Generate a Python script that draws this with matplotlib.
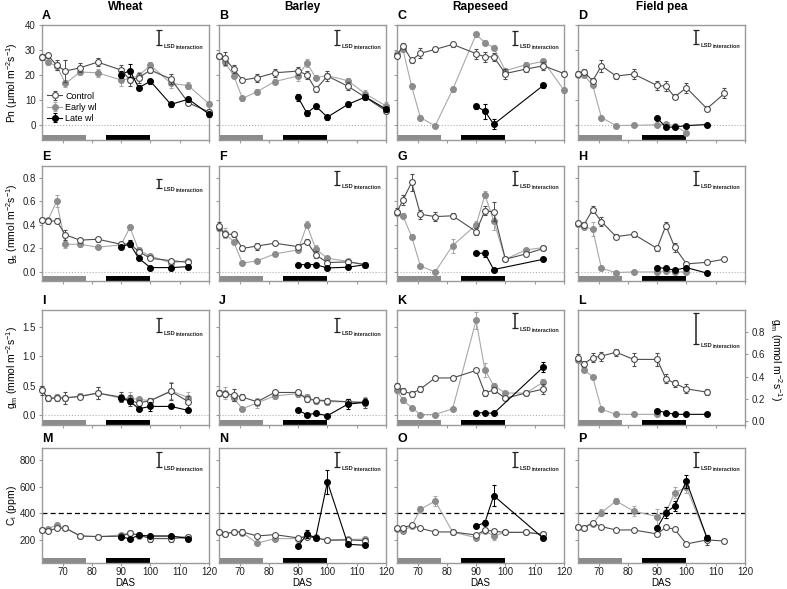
import matplotlib
matplotlib.use("Agg")
import matplotlib.pyplot as plt
import numpy as np

plt.rcParams['font.family'] = ['Liberation Sans', 'DejaVu Sans']
plt.rcParams['mathtext.fontset'] = 'custom'
plt.rcParams['mathtext.rm'] = 'Liberation Sans'
plt.rcParams['mathtext.it'] = 'Liberation Sans:italic'
plt.rcParams['mathtext.bf'] = 'Liberation Sans:bold'

# sampling days (days after sowing)
das_all = [63, 65, 68, 71, 76, 82, 90, 93, 96, 100, 107, 113, 120]
das_main = [63, 65, 68, 71, 76, 82, 90, 93, 96, 100, 107, 113]
das_late_all = [90, 93, 96, 100, 107, 113, 120]
das_late_main = [90, 93, 96, 100, 107, 113]
das_late_rape = [90, 93, 96, 113]
das_late_pea = [90, 93, 96, 100, 107]
das_early_pea = [63, 65, 68, 71, 76, 82, 90, 93, 96, 100]
das_pea_gm_ctrl = [63, 65, 68, 71, 76, 82, 90, 93, 96, 100, 107]
das_pea_gm_early = [63, 65, 68, 71, 76, 82, 90]
das_pea_ci_early = [63, 65, 68, 71, 76, 82, 90, 93, 96, 100, 107]

crops = ['Wheat', 'Barley', 'Rapeseed', 'Field pea']
letters = ['A', 'B', 'C', 'D', 'E', 'F', 'G', 'H', 'I', 'J', 'K', 'L', 'M', 'N', 'O', 'P']

# ---- Pn (umol m-2 s-1)
pn_wheat_ctrl = [27.0, 27.9, 23.8, 21.5, 22.8, 25.1, 21.9, 18.0, 18.8, 21.9, 18.3, 8.7, 5.1]
pn_wheat_ctrl_se = [1.2, 1.0, 2.0, 4.5, 1.8, 1.5, 2.0, 2.5, 2.0, 1.0, 2.0, 1.0, 1.0]
pn_wheat_early = [27.0, 25.0, 23.6, 16.5, 21.1, 20.8, 17.9, 18.5, 19.6, 23.8, 16.6, 15.6, 8.3]
pn_wheat_early_se = [1.0, 1.0, 1.5, 1.5, 1.0, 1.5, 2.5, 2.0, 1.5, 1.5, 2.0, 1.5, 1.0]
pn_wheat_late = [20.1, 21.7, 14.8, 17.4, 8.1, 10.2, 4.2]
pn_wheat_late_se = [1.5, 2.5, 1.0, 1.0, 1.0, 1.0, 1.0]

pn_barley_ctrl = [27.7, 26.6, 22.3, 17.9, 18.8, 20.8, 21.5, 20.0, 14.1, 19.5, 15.4, 10.9, 5.5]
pn_barley_ctrl_se = [1.0, 2.5, 1.5, 1.0, 1.5, 1.5, 1.5, 1.5, 1.0, 2.0, 1.5, 1.0, 1.0]
pn_barley_early = [27.5, 25.0, 19.7, 10.5, 13.2, 17.3, 19.5, 24.8, 18.8, 19.7, 17.6, 12.3, 7.5]
pn_barley_early_se = [1.0, 1.5, 1.0, 1.0, 1.0, 1.0, 2.0, 1.5, 1.0, 1.0, 1.0, 1.5, 1.5]
pn_barley_late = [10.9, 4.6, 7.4, 3.0, 8.1, 11.1, 6.2]
pn_barley_late_se = [1.5, 1.0, 1.0, 1.0, 1.0, 1.0, 1.0]

pn_rape_ctrl = [27.7, 31.7, 25.9, 28.6, 30.2, 32.2, 28.5, 27.2, 27.2, 20.5, 22.3, 23.6, 20.5]
pn_rape_ctrl_se = [1.0, 1.0, 1.0, 2.0, 1.0, 1.0, 2.0, 2.0, 1.5, 2.0, 1.0, 1.5, 1.0]
pn_rape_early = [28.5, 30.3, 15.3, 2.8, -0.5, 14.1, 36.2, 32.9, 30.9, 21.7, 24.0, 25.4, 13.8]
pn_rape_early_se = [1.0, 1.0, 1.0, 1.0, 0.5, 1.0, 1.0, 1.0, 1.0, 1.0, 1.0, 1.0, 1.0]
pn_rape_late = [7.4, 5.4, 0.1, 15.8]
pn_rape_late_se = [1.0, 3.0, 2.0, 1.0]

pn_pea_ctrl = [20.4, 21.2, 17.6, 23.6, 19.5, 20.3, 15.7, 15.4, 11.1, 14.8, 6.4, 12.5]
pn_pea_ctrl_se = [1.0, 1.0, 1.0, 2.5, 1.0, 2.0, 2.0, 2.0, 1.0, 2.0, 1.0, 2.0]
pn_pea_early = [20.0, 19.9, 15.8, 2.8, -0.4, -0.3, -0.1, 0.1, -0.5, -3.2]
pn_pea_early_se = [0.5, 0.5, 0.5, 0.5, 0.3, 0.3, 0.3, 0.3, 0.3, 0.3]
pn_pea_late = [2.7, -1.1, -1.0, -0.4, 0.0]
pn_pea_late_se = [0.5, 0.5, 0.3, 0.3, 0.3]

# ---- gs (mmol m-2 s-1)
gs_wheat_ctrl = [0.44, 0.43, 0.434, 0.315, 0.27, 0.278, 0.235, 0.24, 0.173, 0.116, 0.096, 0.082]
gs_wheat_ctrl_se = [0.01, 0.02, 0.02, 0.04, 0.02, 0.02, 0.02, 0.02, 0.02, 0.01, 0.01, 0.01]
gs_wheat_early = [0.44, 0.44, 0.60, 0.235, 0.235, 0.21, 0.23, 0.38, 0.184, 0.136, 0.077, 0.096]
gs_wheat_early_se = [0.01, 0.02, 0.05, 0.03, 0.02, 0.01, 0.02, 0.02, 0.02, 0.01, 0.01, 0.01]
gs_wheat_late = [0.213, 0.238, 0.116, 0.037, 0.037, 0.045]
gs_wheat_late_se = [0.02, 0.03, 0.01, 0.01, 0.01, 0.01]

gs_barley_ctrl = [0.39, 0.32, 0.32, 0.20, 0.22, 0.244, 0.215, 0.258, 0.145, 0.08, 0.085, 0.062]
gs_barley_ctrl_se = [0.03, 0.02, 0.02, 0.02, 0.03, 0.01, 0.02, 0.02, 0.03, 0.02, 0.01, 0.01]
gs_barley_early = [0.37, 0.33, 0.255, 0.075, 0.094, 0.153, 0.187, 0.40, 0.196, 0.116, 0.09, 0.062]
gs_barley_early_se = [0.02, 0.04, 0.02, 0.01, 0.01, 0.01, 0.02, 0.03, 0.03, 0.02, 0.01, 0.01]
gs_barley_late = [0.062, 0.062, 0.062, 0.034, 0.04, 0.062]
gs_barley_late_se = [0.01, 0.01, 0.01, 0.01, 0.01, 0.01]

gs_rape_ctrl = [0.51, 0.61, 0.76, 0.49, 0.47, 0.477, 0.343, 0.52, 0.51, 0.108, 0.153, 0.20]
gs_rape_ctrl_se = [0.03, 0.04, 0.07, 0.04, 0.04, 0.02, 0.03, 0.04, 0.08, 0.01, 0.01, 0.01]
gs_rape_early = [0.50, 0.477, 0.30, 0.05, 0.0, 0.224, 0.40, 0.655, 0.434, 0.108, 0.187, 0.207]
gs_rape_early_se = [0.02, 0.02, 0.02, 0.01, 0.01, 0.06, 0.03, 0.03, 0.08, 0.01, 0.01, 0.01]
gs_rape_late = [0.159, 0.159, 0.02, 0.108]
gs_rape_late_se = [0.01, 0.03, 0.01, 0.01]

gs_pea_ctrl = [0.414, 0.40, 0.528, 0.428, 0.30, 0.32, 0.20, 0.394, 0.21, 0.068, 0.082, 0.108]
gs_pea_ctrl_se = [0.02, 0.02, 0.03, 0.04, 0.02, 0.02, 0.02, 0.03, 0.04, 0.01, 0.01, 0.01]
gs_pea_early = [0.41, 0.386, 0.363, 0.03, -0.005, 0.0, 0.0, 0.01, 0.0, 0.0]
gs_pea_early_se = [0.02, 0.02, 0.06, 0.01, 0.01, 0.01, 0.01, 0.01, 0.01, 0.01]
gs_pea_late = [0.037, 0.03, 0.015, 0.037, -0.01]
gs_pea_late_se = [0.01, 0.01, 0.01, 0.01, 0.01]

# ---- gm (mmol m-2 s-1)
gm_wheat_ctrl = [0.42, 0.28, 0.28, 0.29, 0.31, 0.37, 0.30, 0.24, 0.20, 0.24, 0.40, 0.22]
gm_wheat_ctrl_se = [0.08, 0.05, 0.05, 0.1, 0.05, 0.1, 0.08, 0.1, 0.05, 0.05, 0.15, 0.1]
gm_wheat_early = [0.42, 0.28, 0.30, 0.28, 0.32, 0.37, 0.28, 0.28, 0.26, 0.24, 0.41, 0.29]
gm_wheat_early_se = [0.05, 0.05, 0.05, 0.05, 0.05, 0.1, 0.05, 0.1, 0.05, 0.05, 0.15, 0.1]
gm_wheat_late = [0.28, 0.23, 0.10, 0.14, 0.14, 0.07]
gm_wheat_late_se = [0.05, 0.05, 0.03, 0.08, 0.03, 0.02]

gm_barley_ctrl = [0.37, 0.36, 0.34, 0.30, 0.22, 0.38, 0.38, 0.26, 0.25, 0.24, 0.22, 0.20]
gm_barley_ctrl_se = [0.05, 0.05, 0.1, 0.05, 0.05, 0.05, 0.05, 0.05, 0.05, 0.05, 0.05, 0.08]
gm_barley_early = [0.37, 0.37, 0.28, 0.10, 0.20, 0.32, 0.36, 0.30, 0.24, 0.22, 0.22, 0.22]
gm_barley_early_se = [0.05, 0.1, 0.05, 0.03, 0.08, 0.05, 0.05, 0.05, 0.05, 0.05, 0.05, 0.08]
gm_barley_late = [0.07, 0.0, 0.02, -0.02, 0.18, 0.21]
gm_barley_late_se = [0.02, 0.01, 0.01, 0.01, 0.08, 0.05]

gm_rape_ctrl = [0.50, 0.40, 0.36, 0.44, 0.63, 0.63, 0.76, 0.37, 0.425, 0.28, 0.37, 0.44]
gm_rape_ctrl_se = [0.05, 0.05, 0.05, 0.05, 0.03, 0.03, 0.03, 0.05, 0.05, 0.03, 0.03, 0.08]
gm_rape_early = [0.42, 0.25, 0.12, 0.0, 0.0, 0.1, 1.62, 0.77, 0.50, 0.37, 0.37, 0.56]
gm_rape_early_se = [0.05, 0.05, 0.03, 0.01, 0.01, 0.02, 0.15, 0.12, 0.05, 0.03, 0.03, 0.05]
gm_rape_late = [0.03, 0.03, 0.02, 0.82]
gm_rape_late_se = [0.01, 0.01, 0.01, 0.08]

gm_pea_ctrl = [0.57, 0.515, 0.57, 0.585, 0.62, 0.555, 0.555, 0.38, 0.34, 0.29, 0.26]
gm_pea_ctrl_se = [0.03, 0.03, 0.04, 0.04, 0.03, 0.06, 0.06, 0.04, 0.03, 0.04, 0.03]
gm_pea_early = [0.55, 0.458, 0.40, 0.106, 0.06, 0.06, 0.06]
gm_pea_early_se = [0.02, 0.02, 0.01, 0.01, 0.01, 0.01, 0.01]
gm_pea_late = [0.094, 0.076, 0.06, 0.06, 0.06]
gm_pea_late_se = [0.01, 0.01, 0.01, 0.01, 0.01]

# ---- Ci (ppm)
ci_wheat_ctrl = [275, 267, 287, 290, 230, 225, 228, 250, 237, 210, 210, 220]
ci_wheat_ctrl_se = [8, 8, 8, 8, 8, 8, 8, 10, 10, 25, 25, 15]
ci_wheat_early = [275, 285, 310, 287, 230, 225, 237, 255, 232, 225, 225, 225]
ci_wheat_early_se = [8, 8, 10, 10, 8, 8, 10, 10, 10, 10, 10, 10]
ci_wheat_late = [225, 207, 235, 230, 230, 210]
ci_wheat_late_se = [10, 10, 10, 10, 15, 10]

ci_barley_ctrl = [260, 245, 260, 260, 230, 240, 215, 225, 215, 197, 200, 195]
ci_barley_ctrl_se = [8, 8, 10, 20, 8, 8, 10, 15, 10, 10, 10, 20]
ci_barley_early = [258, 242, 260, 255, 175, 210, 210, 237, 220, 200, 205, 205]
ci_barley_early_se = [8, 8, 8, 10, 8, 10, 10, 15, 10, 10, 10, 10]
ci_barley_late = [155, 242, 217, 635, 167, 160]
ci_barley_late_se = [10, 30, 10, 90, 10, 10]

ci_rape_ctrl = [287, 292, 310, 287, 260, 260, 237, 275, 265, 257, 257, 242]
ci_rape_ctrl_se = [8, 8, 8, 8, 8, 8, 8, 10, 15, 8, 8, 8]
ci_rape_early = [280, 267, 305, 430, 492, 260, 217, 270, 230, 257, 257, 242]
ci_rape_early_se = [8, 8, 10, 25, 40, 10, 10, 10, 30, 8, 8, 8]
ci_rape_late = [305, 330, 532, 212]
ci_rape_late_se = [10, 20, 80, 10]

ci_pea_ctrl = [300, 292, 330, 300, 275, 275, 245, 295, 280, 170, 200, 192]
ci_pea_ctrl_se = [8, 8, 10, 8, 8, 8, 10, 10, 15, 8, 40, 15]
ci_pea_early = [300, 292, 320, 405, 492, 417, 375, 407, 555, 595, 215]
ci_pea_early_se = [8, 8, 10, 25, 25, 40, 60, 40, 40, 40, 15]
ci_pea_late = [290, 405, 455, 640, 217]
ci_pea_late_se = [10, 40, 40, 50, 20]

# LSD (interaction) bar length and top of the bar, per panel
lsd_len = [6.0, 6.0, 5.7, 5.6,
           0.077, 0.114, 0.114, 0.114,
           0.24, 0.24, 0.25, 0.275,
           108, 108, 108, 108]
lsd_top = [38.0, 38.0, 37.7, 38.0,
           0.789, 0.854, 0.854, 0.854,
           1.66, 1.66, 1.746, 0.973,
           858, 858, 858, 858]

W, H = 787, 589
col_left = [42, 219, 397, 578]
row_top = [25, 166, 310, 448]
ax_w, ax_h = 167, 115

C_CTRL = '#4d4d4d'
C_EARLY = '#8c8c8c'
C_EARLY_LINE = '#a8a8a8'
C_SPINE = '#9a9a9a'


def px_rect(left, top, w, h):
    return [left / W, 1 - (top + h) / H, w / W, h / H]


def draw_series(ax, x, y, err, kind):
    if kind == 'ctrl':
        kw = dict(color=C_CTRL, mfc='white', mec=C_CTRL, ecolor=C_CTRL, zorder=4, label='Control')
    elif kind == 'early':
        kw = dict(color=C_EARLY_LINE, mfc=C_EARLY, mec=C_EARLY, ecolor=C_EARLY_LINE, zorder=3, label='Early wl')
    else:
        kw = dict(color='black', mfc='black', mec='black', ecolor='black', zorder=5, label='Late wl')
    ax.errorbar(x, y, yerr=err, marker='o', ms=4.2, mew=0.8, lw=0.8, elinewidth=0.7,
                capsize=1.6, capthick=0.7, clip_on=False, **kw)


def setup_axes(ax, row, col):
    for s in ax.spines.values():
        s.set_color(C_SPINE)
        s.set_linewidth(1.0)
    ax.set_xlim(63, 120)
    ax.set_xticks(range(70, 121, 10))
    ax.tick_params(direction='out', length=2.5, width=0.8, color=C_SPINE,
                   labelsize=7, pad=2, labelcolor='#222222')
    ax.tick_params(axis='x', pad=0.8, length=2)
    if row < 3:
        ax.tick_params(labelbottom=False)
    else:
        ax.set_xlabel('DAS', fontsize=7, labelpad=0.5)
    if col > 0:
        ax.tick_params(labelleft=False)
    # treatment periods at the bottom of each panel
    ax.axvspan(63, 78, ymin=0, ymax=0.045, color='#8c8c8c', lw=0, zorder=2)
    ax.axvspan(85, 100, ymin=0, ymax=0.045, color='black', lw=0, zorder=2)


def draw_lsd(ax, idx):
    x = 102.8 if idx % 4 == 0 else 103.3
    top = lsd_top[idx]
    bottom = top - lsd_len[idx]
    ax.errorbar([x], [(top + bottom) / 2], yerr=[lsd_len[idx] / 2], fmt='none',
                ecolor='#222222', elinewidth=1.1, capsize=2.2, capthick=0.9, zorder=6)
    ax.annotate('LSD', xy=(x, bottom), xytext=(3.5, -2.2), textcoords='offset points',
                fontsize=4.2, fontweight='bold', va='baseline', ha='left', color='#222222')
    ax.annotate('interaction', xy=(x, bottom), xytext=(12.0, -3.0), textcoords='offset points',
                fontsize=3.9, fontweight='bold', va='baseline', ha='left', color='#222222')


def main():
    fig = plt.figure(figsize=(W / 100, H / 100), dpi=100)

    panels = [
        # row 0: Pn
        [(das_all, pn_wheat_ctrl, pn_wheat_ctrl_se), (das_all, pn_wheat_early, pn_wheat_early_se), (das_late_all, pn_wheat_late, pn_wheat_late_se)],
        [(das_all, pn_barley_ctrl, pn_barley_ctrl_se), (das_all, pn_barley_early, pn_barley_early_se), (das_late_all, pn_barley_late, pn_barley_late_se)],
        [(das_all, pn_rape_ctrl, pn_rape_ctrl_se), (das_all, pn_rape_early, pn_rape_early_se), (das_late_rape, pn_rape_late, pn_rape_late_se)],
        [(das_main, pn_pea_ctrl, pn_pea_ctrl_se), (das_early_pea, pn_pea_early, pn_pea_early_se), (das_late_pea, pn_pea_late, pn_pea_late_se)],
        # row 1: gs
        [(das_main, gs_wheat_ctrl, gs_wheat_ctrl_se), (das_main, gs_wheat_early, gs_wheat_early_se), (das_late_main, gs_wheat_late, gs_wheat_late_se)],
        [(das_main, gs_barley_ctrl, gs_barley_ctrl_se), (das_main, gs_barley_early, gs_barley_early_se), (das_late_main, gs_barley_late, gs_barley_late_se)],
        [(das_main, gs_rape_ctrl, gs_rape_ctrl_se), (das_main, gs_rape_early, gs_rape_early_se), (das_late_rape, gs_rape_late, gs_rape_late_se)],
        [(das_main, gs_pea_ctrl, gs_pea_ctrl_se), (das_early_pea, gs_pea_early, gs_pea_early_se), (das_late_pea, gs_pea_late, gs_pea_late_se)],
        # row 2: gm
        [(das_main, gm_wheat_ctrl, gm_wheat_ctrl_se), (das_main, gm_wheat_early, gm_wheat_early_se), (das_late_main, gm_wheat_late, gm_wheat_late_se)],
        [(das_main, gm_barley_ctrl, gm_barley_ctrl_se), (das_main, gm_barley_early, gm_barley_early_se), (das_late_main, gm_barley_late, gm_barley_late_se)],
        [(das_main, gm_rape_ctrl, gm_rape_ctrl_se), (das_main, gm_rape_early, gm_rape_early_se), (das_late_rape, gm_rape_late, gm_rape_late_se)],
        [(das_pea_gm_ctrl, gm_pea_ctrl, gm_pea_ctrl_se), (das_pea_gm_early, gm_pea_early, gm_pea_early_se), (das_late_pea, gm_pea_late, gm_pea_late_se)],
        # row 3: Ci
        [(das_main, ci_wheat_ctrl, ci_wheat_ctrl_se), (das_main, ci_wheat_early, ci_wheat_early_se), (das_late_main, ci_wheat_late, ci_wheat_late_se)],
        [(das_main, ci_barley_ctrl, ci_barley_ctrl_se), (das_main, ci_barley_early, ci_barley_early_se), (das_late_main, ci_barley_late, ci_barley_late_se)],
        [(das_main, ci_rape_ctrl, ci_rape_ctrl_se), (das_main, ci_rape_early, ci_rape_early_se), (das_late_rape, ci_rape_late, ci_rape_late_se)],
        [(das_main, ci_pea_ctrl, ci_pea_ctrl_se), (das_pea_ci_early, ci_pea_early, ci_pea_early_se), (das_late_pea, ci_pea_late, ci_pea_late_se)],
    ]

    ylims = [(-6.2, 40), (-0.077, 0.9), (-0.18, 1.8), (27, 890)]
    yticks = [[0, 10, 20, 30, 40], [0.0, 0.2, 0.4, 0.6, 0.8], [0.0, 0.5, 1.0, 1.5], [200, 400, 600, 800]]
    yfmt = ['{:.0f}', '{:.1f}', '{:.1f}', '{:.0f}']
    ylabels = ['Pn (\u03bcmol m$^{-2}$s$^{-1}$)', 'g$_{\\rm s}$ (mmol m$^{-2}$s$^{-1}$)',
               'g$_{\\rm m}$ (mmol m$^{-2}$s$^{-1}$)', 'C$_{\\rm i}$ (ppm)']

    for idx, series in enumerate(panels):
        row, col = divmod(idx, 4)
        ax = fig.add_axes(px_rect(col_left[col], row_top[row], ax_w, ax_h))
        setup_axes(ax, row, col)

        if idx == 11:
            # field pea gm uses its own scale on the right
            ax.set_ylim(-0.036, 1.0)
            ax.set_yticks([0.0, 0.2, 0.4, 0.6, 0.8])
            ax.set_yticklabels(['{:.1f}'.format(v) for v in [0.0, 0.2, 0.4, 0.6, 0.8]])
            ax.yaxis.tick_right()
            ax.tick_params(labelright=True, labelleft=False)
            fig.text(776 / W, 1 - (row_top[row] + ax_h / 2 - 8) / H,
                     'g$_{\\rm m}$ (mmol m$^{-2}$s$^{-1}$)', fontsize=7.5,
                     rotation=270, ha='center', va='center')
        else:
            ax.set_ylim(*ylims[row])
            ax.set_yticks(yticks[row])
            ax.set_yticklabels([yfmt[row].format(v) for v in yticks[row]])
            if row < 3:
                ax.axhline(0, color='#b0b0b0', ls=':', lw=0.8, zorder=1)
            else:
                ax.axhline(405, color='black', ls=(0, (4, 2.5)), lw=0.9, zorder=1)

        (xc, yc, ec), (xe, ye, ee), (xl, yl, el) = series
        draw_series(ax, xe, ye, ee, 'early')
        draw_series(ax, xc, yc, ec, 'ctrl')
        draw_series(ax, xl, yl, el, 'late')
        draw_lsd(ax, idx)

        if idx == 0:
            handles, labels = ax.get_legend_handles_labels()
            order = [labels.index(n) for n in ['Control', 'Early wl', 'Late wl']]
            ax.legend([handles[i] for i in order], [labels[i] for i in order],
                      loc='lower left', bbox_to_anchor=(0.0, 0.1), frameon=False,
                      fontsize=6.5, handlelength=1.6, handletextpad=0.4,
                      labelspacing=0.25, borderaxespad=0.2)

        if col == 0:
            fig.text(12 / W, 1 - (row_top[row] + ax_h / 2) / H, ylabels[row],
                     rotation=90, ha='center', va='center', fontsize=7.5)

        fig.text(col_left[col] / W, 1 - (row_top[row] - 6) / H, letters[idx],
                 fontsize=9, fontweight='bold', ha='left', va='baseline')

        if row == 0:
            fig.text((col_left[col] + ax_w / 2) / W, 1 - 10 / H, crops[col],
                     fontsize=8.5, fontweight='bold', ha='center', va='baseline')

    fig.savefig('out.png', dpi=100)


if __name__ == '__main__':
    main()
